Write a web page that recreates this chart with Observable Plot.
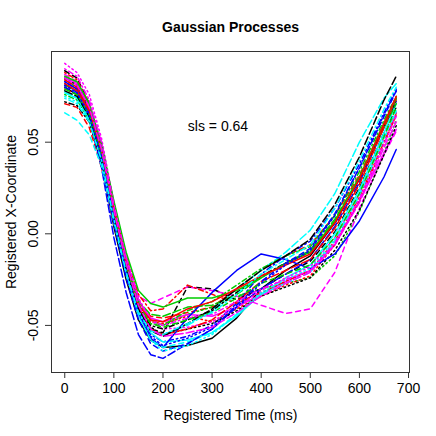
<!DOCTYPE html>
<html>
<head>
<meta charset="utf-8">
<script src="https://cdn.jsdelivr.net/npm/d3@7"></script>
<script src="https://cdn.jsdelivr.net/npm/@observablehq/plot@0.6"></script>
<style>
  html, body { margin: 0; padding: 0; background: #fff; }
  #chart { width: 436px; height: 436px; }
</style>
</head>
<body>
<div id="chart"></div>
<script>
// Registered time nodes (ms)
const times = [0, 25, 50, 75, 100, 125, 150, 175, 200, 250, 300, 350, 400, 450, 500, 550, 600, 650, 675];

// 30 curves (matplot order: colour cycles over 6, line type over 5)
const seriesValues = [
  [.080,.076,.062,.038,.004,-.025,-.047,-.058,-.062,-.061,-.057,-.046,-.030,-.020,-.012,.006,.030,.060,.074],
  [.071,.069,.058,.036,.006,-.020,-.038,-.045,-.046,-.043,-.040,-.030,-.020,-.012,-.006,.010,.032,.060,.073],
  [.084,.080,.068,.046,.014,-.014,-.036,-.047,-.050,-.044,-.040,-.034,-.030,-.027,-.024,-.012,.012,.044,.062],
  [.083,.079,.067,.044,.011,-.019,-.042,-.055,-.059,-.056,-.050,-.038,-.022,-.012,-.004,.014,.038,.066,.079],
  [.078,.074,.062,.040,.008,-.020,-.041,-.052,-.055,-.050,-.042,-.030,-.020,-.010,.002,.022,.050,.074,.082],
  [.086,.082,.070,.047,.014,-.015,-.037,-.046,-.048,-.044,-.045,-.040,-.033,-.026,-.020,-.006,.018,.044,.057],
  [.089,.085,.071,.047,.013,-.016,-.040,-.052,-.054,-.029,-.030,-.036,-.030,-.022,-.015,.001,.025,.055,.069],
  [.079,.076,.065,.043,.011,-.016,-.038,-.048,-.049,-.045,-.048,-.041,-.034,-.028,-.023,-.006,.018,.049,.065],
  [.076,.073,.062,.041,.010,-.018,-.040,-.049,-.050,-.042,-.037,-.028,-.019,-.012,-.007,.010,.034,.062,.075],
  [.082,.077,.063,.036,-.002,-.032,-.055,-.066,-.068,-.060,-.052,-.040,-.030,-.022,-.014,.004,.028,.058,.072],
  [.077,.074,.063,.041,.009,-.019,-.041,-.054,-.059,-.058,-.054,-.045,-.033,-.024,-.017,.000,.024,.055,.071],
  [.087,.083,.071,.048,.015,-.013,-.034,-.038,-.035,-.029,-.031,-.034,-.039,-.0435,-.041,-.021,.014,.043,.056],
  [.085,.081,.068,.045,.012,-.017,-.039,-.051,-.055,-.052,-.049,-.042,-.034,-.029,-.024,-.009,.013,.043,.059],
  [.088,.084,.071,.048,.015,-.012,-.033,-.042,-.041,-.028,-.033,-.038,-.032,-.026,-.020,-.004,.020,.050,.066],
  [.081,.078,.067,.045,.013,-.015,-.037,-.044,-.045,-.040,-.039,-.033,-.024,-.016,-.009,.008,.031,.058,.071],
  [.083,.079,.066,.043,.009,-.021,-.044,-.057,-.062,-.046,-.032,-.020,-.011,-.014,-.019,-.011,.007,.031,.046],
  [.066,.062,.054,.037,.006,-.022,-.045,-.058,-.062,-.059,-.054,-.044,-.033,-.027,-.021,-.004,.021,.052,.067],
  [.093,.088,.076,.052,.017,-.012,-.035,-.047,-.052,-.051,-.048,-.040,-.031,-.024,-.018,-.002,.022,.052,.066],
  [.072,.070,.061,.040,.009,-.019,-.041,-.050,-.052,-.047,-.042,-.032,-.023,-.016,-.010,.006,.030,.059,.073],
  [.084,.080,.068,.045,.012,-.017,-.040,-.052,-.055,-.052,-.047,-.037,-.026,-.020,-.014,.003,.027,.058,.074],
  [.086,.083,.071,.049,.018,-.010,-.031,-.038,-.040,-.035,-.035,-.031,-.024,-.016,-.010,.007,.031,.060,.074],
  [.080,.076,.064,.040,.006,-.024,-.047,-.060,-.064,-.060,-.052,-.039,-.026,-.016,-.008,.011,.036,.064,.078],
  [.075,.072,.062,.041,.009,-.021,-.044,-.058,-.064,-.061,-.055,-.044,-.032,-.025,-.019,-.003,.022,.052,.067],
  [.090,.086,.073,.050,.016,-.013,-.036,-.047,-.050,-.046,-.044,-.037,-.030,-.025,-.020,-.005,.019,.049,.064],
  [.078,.075,.064,.042,.010,-.018,-.041,-.053,-.056,-.049,-.041,-.030,-.020,-.012,-.003,.016,.042,.073,.086],
  [.082,.078,.067,.045,.013,-.016,-.039,-.047,-.048,-.041,-.037,-.030,-.023,-.017,-.011,.006,.030,.060,.075],
  [.079,.076,.065,.043,.011,-.017,-.039,-.049,-.051,-.047,-.043,-.035,-.027,-.022,-.017,-.002,.022,.053,.069],
  [.081,.077,.065,.042,.009,-.020,-.043,-.056,-.061,-.057,-.051,-.040,-.027,-.017,-.009,.010,.036,.065,.078],
  [.074,.071,.061,.040,.008,-.021,-.043,-.053,-.055,-.049,-.043,-.033,-.022,-.014,-.006,.014,.040,.068,.080],
  [.085,.081,.069,.046,.013,-.016,-.039,-.052,-.056,-.054,-.051,-.043,-.034,-.027,-.021,-.006,.017,.047,.061]
];

const palette = ["#000000", "#FF0000", "#00CD00", "#0000FF", "#00FFFF", "#FF00FF"];
const dashes = [null, "5,4", "1.5,3", "1.5,3,5,3", "8,3"];

const xTicks = [0, 100, 200, 300, 400, 500, 600, 700];
const yTicks = [-0.05, 0, 0.05];

const titleText = "Gaussian Processes";
const xLabel = "Registered Time (ms)";
const yLabel = "Registered X-Coordinate";
const noteText = "sls = 0.64";
const notePos = {x: 312, y: 0.0585};

const font = "'Liberation Sans', Arial, Helvetica, sans-serif";

const lineMarks = seriesValues.map((vals, i) => {
  const rows = times.map((t, j) => ({t, v: vals[j]}));
  return Plot.line(rows, {
    x: "t", y: "v",
    stroke: palette[i % 6],
    strokeWidth: 1.5,
    strokeDasharray: dashes[i % 5] || undefined
  });
});

const chart = Plot.plot({
  width: 436,
  height: 436,
  marginTop: 51,
  marginBottom: 64,
  marginLeft: 51,
  marginRight: 27,
  style: {fontFamily: font, fontSize: "14px", background: "#fff", color: "#000"},
  x: {domain: [-27, 702]},
  y: {domain: [-0.0757, 0.0995]},
  marks: [
    ...lineMarks,
    Plot.frame({stroke: "#333", strokeWidth: 1}),
    Plot.axisX({ticks: xTicks, tickSize: 6, tickPadding: 5, fontSize: 14, label: null, stroke: "#333"}),
    Plot.axisY({ticks: yTicks, tickSize: 6, text: null, label: null, stroke: "#333"}),
    Plot.text(yTicks, {y: d => d, text: d => d.toFixed(2), frameAnchor: "left", dx: -18, rotate: -90, textAnchor: "middle", lineAnchor: "middle", fontSize: 14}),
    Plot.text([yLabel], {text: d => d, frameAnchor: "left", dx: -40, rotate: -90, textAnchor: "middle", lineAnchor: "middle", fontSize: 14}),
    Plot.text([xLabel], {text: d => d, frameAnchor: "bottom", dy: 43, textAnchor: "middle", lineAnchor: "middle", fontSize: 14}),
    Plot.text([titleText], {text: d => d, frameAnchor: "top", dy: -24, textAnchor: "middle", lineAnchor: "middle", fontSize: 14, fontWeight: "bold"}),
    Plot.text([noteText], {x: () => notePos.x, y: () => notePos.y, text: d => d, textAnchor: "middle", lineAnchor: "middle", fontSize: 14})
  ]
});

document.getElementById("chart").appendChild(chart);
</script>
</body>
</html>
